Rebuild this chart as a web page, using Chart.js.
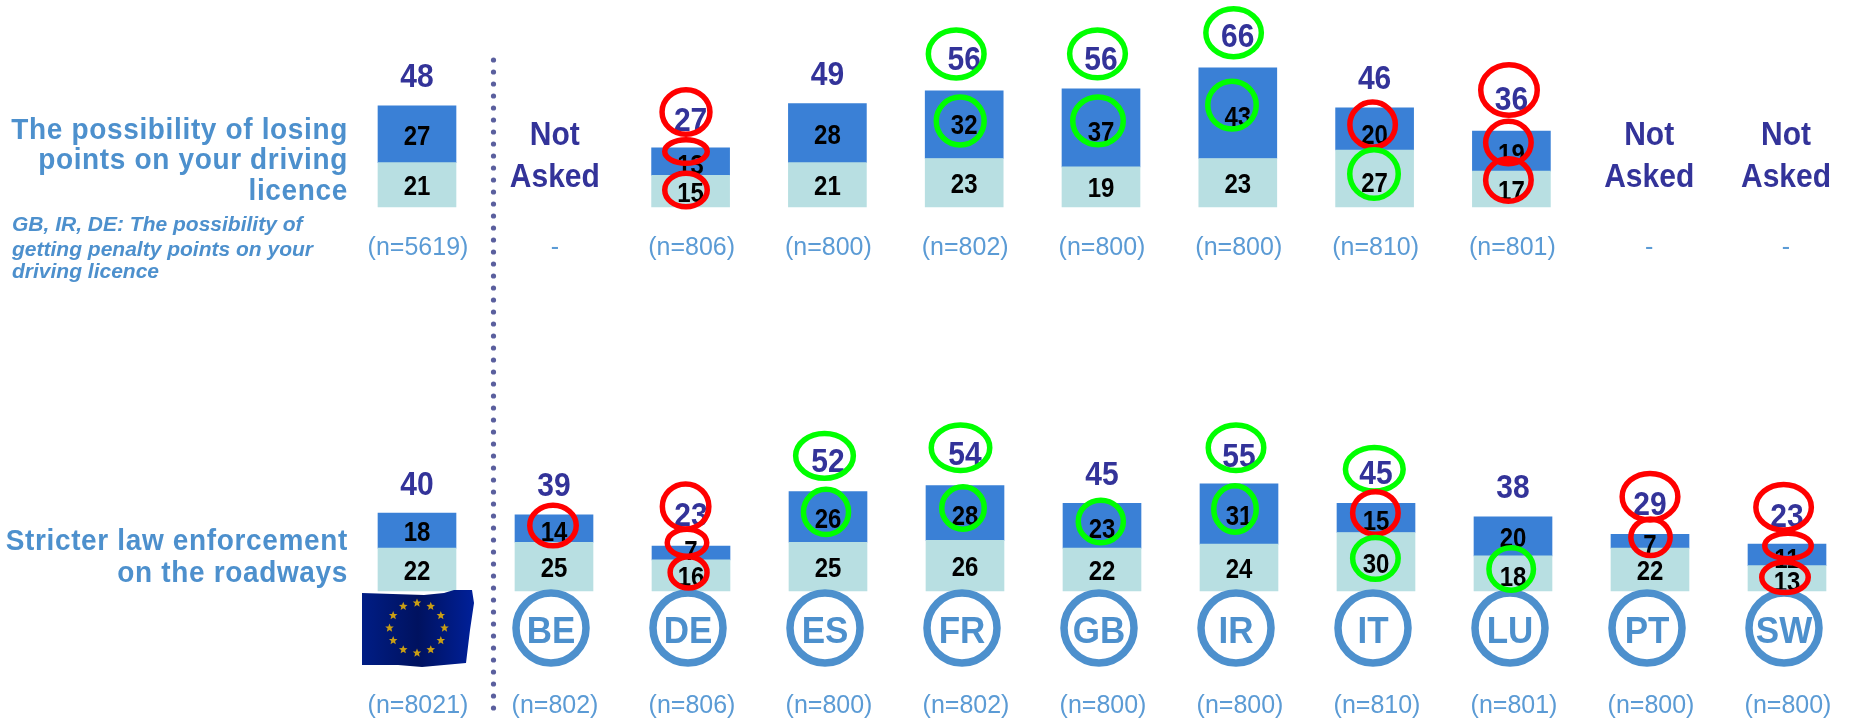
<!DOCTYPE html>
<html>
<head>
<meta charset="utf-8">
<title>Chart</title>
<script src="https://cdn.jsdelivr.net/npm/chart.js@4/dist/chart.umd.min.js"></script>
<style>
  html, body { margin: 0; padding: 0; background: #fff; overflow: hidden; }
  canvas { position: absolute; left: 0; }
  #topChart { top: 0; }
  #bottomChart { top: 300px; }
</style>
</head>
<body>
<canvas id="topChart" width="1849" height="300"></canvas>
<canvas id="bottomChart" width="1849" height="420"></canvas>
<script>
// Data
const categories = ['EU', 'BE', 'DE', 'ES', 'FR', 'GB', 'IR', 'IT', 'LU', 'PT', 'SW'];

const topTotals = [48, null, 27, 49, 56, 56, 66, 46, 36, null, null];
const topDark = [27, null, 13, 28, 32, 37, 43, 20, 19, null, null];
const topLight = [21, null, 15, 21, 23, 19, 23, 27, 17, null, null];
const topN = ['(n=5619)', '-', '(n=806)', '(n=800)', '(n=802)', '(n=800)', '(n=800)', '(n=810)', '(n=801)', '-', '-'];

const bottomTotals = [40, 39, 23, 52, 54, 45, 55, 45, 38, 29, 23];
const bottomDark = [18, 14, 7, 26, 28, 23, 31, 15, 20, 7, 11];
const bottomLight = [22, 25, 16, 25, 26, 22, 24, 30, 18, 22, 13];
const bottomN = ['(n=8021)', '(n=802)', '(n=806)', '(n=800)', '(n=802)', '(n=800)', '(n=800)', '(n=810)', '(n=801)', '(n=800)', '(n=800)'];

const topLabel = ['The possibility of losing', 'points on your driving', 'licence'];
const topNote = ['GB, IR, DE: The possibility of', 'getting penalty points on your', 'driving licence'];
const bottomLabel = ['Stricter law enforcement', 'on the roadways'];
const notAsked = ['Not', 'Asked'];

// Rings around significant values: series, category, colour, then offsets and radii
const RED = '#ff0000', GREEN = '#00ff00';
const topRings = [
  ['total', 2, RED, -4.6, -5.4, 26.7, 25, 2],
  ['dark', 2, RED, -4.6, -10.1, 24, 14.5, 2],
  ['light', 2, RED, -4.6, -1.2, 24, 19.5, 0.5],
  ['total', 4, GREEN, -8, -6.5, 30.6, 26.7, -2],
  ['dark', 4, GREEN, -4, -3.7, 26.7, 26.7, -0.7],
  ['total', 5, GREEN, -3.5, -4.5, 30.6, 26.7, 0],
  ['dark', 5, GREEN, -3, -7, 28, 26.7, 3],
  ['total', 6, GREEN, -4.2, -4.5, 30.5, 26.7, -2],
  ['dark', 6, GREEN, -5.8, -8, 27, 26.7, 2],
  ['dark', 7, RED, -2, -4.3, 25.5, 25.3, 5],
  ['light', 7, GREEN, -0.6, -4.5, 27, 27, 3.5],
  ['total', 8, RED, -2.4, -10.5, 31, 28, -3],
  ['dark', 8, RED, -3, -8.5, 25.5, 24, 1],
  ['light', 8, RED, -3, -9, 25.5, 24, 1]
];
const bottomRings = [
  ['dark', 1, RED, -1, -3, 26, 23, 1.5],
  ['total', 2, RED, -5.4, -9.2, 26, 25.3, -2],
  ['dark', 2, RED, -4, -10.2, 22.5, 16.2, -3],
  ['light', 2, RED, -2.4, -3, 21.2, 18.3, 0],
  ['total', 3, GREEN, -3.5, -5.2, 31.6, 25.2, -1],
  ['dark', 3, GREEN, -2, -5, 25.3, 25.3, 0.7],
  ['total', 4, GREEN, -4.5, -7.4, 32, 25.5, -2.7],
  ['dark', 4, GREEN, -2, -5, 24, 24, 2],
  ['dark', 5, GREEN, -1.2, -4.3, 25.3, 24, 2.4],
  ['total', 6, GREEN, -3, -5.5, 30.5, 25.5, 2],
  ['dark', 6, GREEN, -4, -5, 24, 26, 1],
  ['total', 7, GREEN, -1.7, -3.5, 31.6, 24.5, -1],
  ['dark', 7, RED, -0.6, -5, 25.5, 24, 2],
  ['light', 7, GREEN, -0.6, -3.4, 25.5, 23.7, 0.7],
  ['light', 8, GREEN, -1.8, -4.5, 25, 24, 2.5],
  ['total', 9, RED, 0, -7.3, 30.6, 26, -0.5],
  ['dark', 9, RED, 0.5, -4, 22.4, 21, 2],
  ['total', 10, RED, -3.4, -6.5, 30.5, 25.5, 1.5],
  ['dark', 10, RED, 1, -9, 26, 15.5, 3],
  ['light', 10, RED, -2, -1, 26, 18, 2]
];

const FONT = '"Liberation Sans", Arial, sans-serif';
const BLUE_TEXT = '#4d90cd';
const N_TEXT = '#5b9bd5';
const TOTAL_TEXT = '#333399';

// y is the middle of the digits / capitals, stretch makes the glyphs taller like the original
function putText(ctx, text, x, y, size, style, color, align, stretch) {
  const sy = stretch || 1;
  ctx.save();
  ctx.translate(x, y + 0.358 * size * sy);
  ctx.scale(1, sy);
  ctx.font = style + ' ' + size + 'px ' + FONT;
  ctx.fillStyle = color;
  ctx.textAlign = align || 'center';
  ctx.textBaseline = 'alphabetic';
  ctx.fillText(text, 0, 0);
  ctx.restore();
}

function drawFlag(ctx, cx) {
  const outline = [[-54, 593], [8, 595], [28, 593], [38, 590], [56, 590], [58, 603], [54, 630], [50, 663], [6, 667], [-18, 665], [-54, 665]];
  const grad = ctx.createLinearGradient(cx - 54, 0, cx + 58, 0);
  grad.addColorStop(0, '#001d85');
  grad.addColorStop(0.5, '#00125f');
  grad.addColorStop(1, '#00209a');
  ctx.beginPath();
  outline.forEach(function (p, i) {
    if (i === 0) ctx.moveTo(cx + p[0], p[1]); else ctx.lineTo(cx + p[0], p[1]);
  });
  ctx.closePath();
  ctx.fillStyle = grad;
  ctx.fill();
  ctx.fillStyle = '#c99e14';
  for (let i = 0; i < 12; i++) {
    const a = i * Math.PI / 6;
    const sx = cx + 1 + Math.cos(a) * 27.5, sy = 628 + Math.sin(a) * 25;
    ctx.beginPath();
    for (let k = 0; k < 10; k++) {
      const r = k % 2 ? 2 : 4.5;
      const b = -Math.PI / 2 + k * Math.PI / 5;
      ctx.lineTo(sx + Math.cos(b) * r, sy + Math.sin(b) * r);
    }
    ctx.closePath();
    ctx.fill();
  }
}

// Everything that is not a bar: labels, rings, divider, country badges
const annotate = {
  id: 'annotate',
  afterDatasetsDraw: function (chart, args, opts) {
    const ctx = chart.ctx;
    const x = chart.scales.x, y = chart.scales.y;
    ctx.save();
    ctx.translate(0, -opts.offsetY);

    // dotted divider
    ctx.fillStyle = '#5a5f9e';
    for (let dotY = 60; dotY <= 708; dotY += 12) {
      ctx.beginPath();
      ctx.arc(493.5, dotY, 2.6, 0, Math.PI * 2);
      ctx.fill();
    }

    // left hand row labels
    ctx.letterSpacing = '0.65px';
    opts.label.forEach(function (line, i) {
      putText(ctx, line, 348, opts.labelY[i], 28, 'bold', BLUE_TEXT, 'right', 1.08);
    });
    ctx.letterSpacing = '0px';
    (opts.note || []).forEach(function (line, i) {
      putText(ctx, line, 12, opts.noteY[i], 21, 'italic bold', BLUE_TEXT, 'left');
    });

    const shift = function (series, i) {
      const r = opts.rings.find(function (m) { return m[0] === series && m[1] === i; });
      return r ? r[7] : 0;
    };

    categories.forEach(function (cat, i) {
      const px = x.getPixelForValue(i);
      putText(ctx, opts.n[i], px + 1, opts.nY, 25, 'normal', N_TEXT, 'center', 1.05);
      if (opts.totals[i] === null) {
        notAsked.forEach(function (word, w) {
          putText(ctx, word, px + 1, opts.offsetY + 133.5 + w * 42, 30, 'bold', TOTAL_TEXT, 'center', 1.08);
        });
        return;
      }
      const anchors = labelAnchors(y, opts, i, opts.offsetY);
      putText(ctx, opts.totals[i], px, anchors.total + shift('total', i), 30, 'bold', TOTAL_TEXT, 'center', 1.12);
      putText(ctx, opts.dark[i], px, anchors.dark + 0.8 + shift('dark', i), 24, 'bold', '#000', 'center', 1.12);
      putText(ctx, opts.light[i], px, anchors.light + 0.8 + shift('light', i), 24, 'bold', '#000', 'center', 1.12);
    });

    // country badges and flag, bottom panel only
    if (opts.badges) {
      categories.forEach(function (cat, i) {
        const px = x.getPixelForValue(i);
        if (cat === 'EU') {
          drawFlag(ctx, px - 1);
          return;
        }
        ctx.beginPath();
        ctx.ellipse(px - 3, 628, 35, 35, 0, 0, Math.PI * 2);
        ctx.lineWidth = 7.5;
        ctx.strokeStyle = BLUE_TEXT;
        ctx.stroke();
        putText(ctx, cat, px - 3, 630, 35, 'bold', BLUE_TEXT, 'center', 1.05);
      });
    }

    // rings
    opts.rings.forEach(function (m) {
      const anchors = labelAnchors(y, opts, m[1], opts.offsetY);
      ctx.beginPath();
      ctx.ellipse(x.getPixelForValue(m[1]) + m[3], anchors[m[0]] + m[4], m[5] - 2.75, m[6] - 2.75, 0, 0, Math.PI * 2);
      ctx.lineWidth = 5.5;
      ctx.strokeStyle = m[2];
      ctx.stroke();
    });

    ctx.restore();
  }
};

// Centre of each value label, in page y (the canvas is shifted by offsetY)
function labelAnchors(y, opts, i, offsetY) {
  const top = y.getPixelForValue(opts.dark[i] + opts.light[i]) + offsetY;
  const mid = y.getPixelForValue(opts.light[i]) + offsetY;
  const base = y.getPixelForValue(0) + offsetY;
  return { total: top - 30.5, dark: (top + mid) / 2, light: (mid + base) / 2 };
}

function makePanel(id, panel) {
  const height = document.getElementById(id).height;
  const baseY = panel.baseline - panel.offsetY;
  return new Chart(document.getElementById(id), {
    type: 'bar',
    data: {
      labels: categories,
      datasets: [
        { data: panel.light, backgroundColor: '#b8dfe2', stack: 's', barThickness: 78, clip: false },
        { data: panel.dark, backgroundColor: '#3a80d6', stack: 's', barThickness: 78, clip: false }
      ]
    },
    options: {
      responsive: false,
      animation: false,
      layout: { padding: { left: panel.left, right: 1849 - panel.right, top: 0, bottom: 0 } },
      scales: {
        x: { display: false, offset: false, stacked: true },
        y: {
          display: false,
          stacked: true,
          min: -(height - baseY) / panel.pxPerUnit,
          max: baseY / panel.pxPerUnit
        }
      },
      plugins: {
        legend: { display: false },
        tooltip: { enabled: false },
        annotate: panel
      }
    },
    plugins: [annotate]
  });
}

makePanel('topChart', {
  offsetY: 0, baseline: 207, pxPerUnit: 2.11, left: 417, right: 1785,
  totals: topTotals, dark: topDark, light: topLight, n: topN, nY: 246,
  rings: topRings, badges: false,
  label: topLabel, labelY: [128, 158, 189],
  note: topNote, noteY: [223, 248, 270]
});

makePanel('bottomChart', {
  offsetY: 300, baseline: 591, pxPerUnit: 1.95, left: 417, right: 1787,
  totals: bottomTotals, dark: bottomDark, light: bottomLight, n: bottomN, nY: 704,
  rings: bottomRings, badges: true,
  label: bottomLabel, labelY: [539, 571]
});
</script>
</body>
</html>
